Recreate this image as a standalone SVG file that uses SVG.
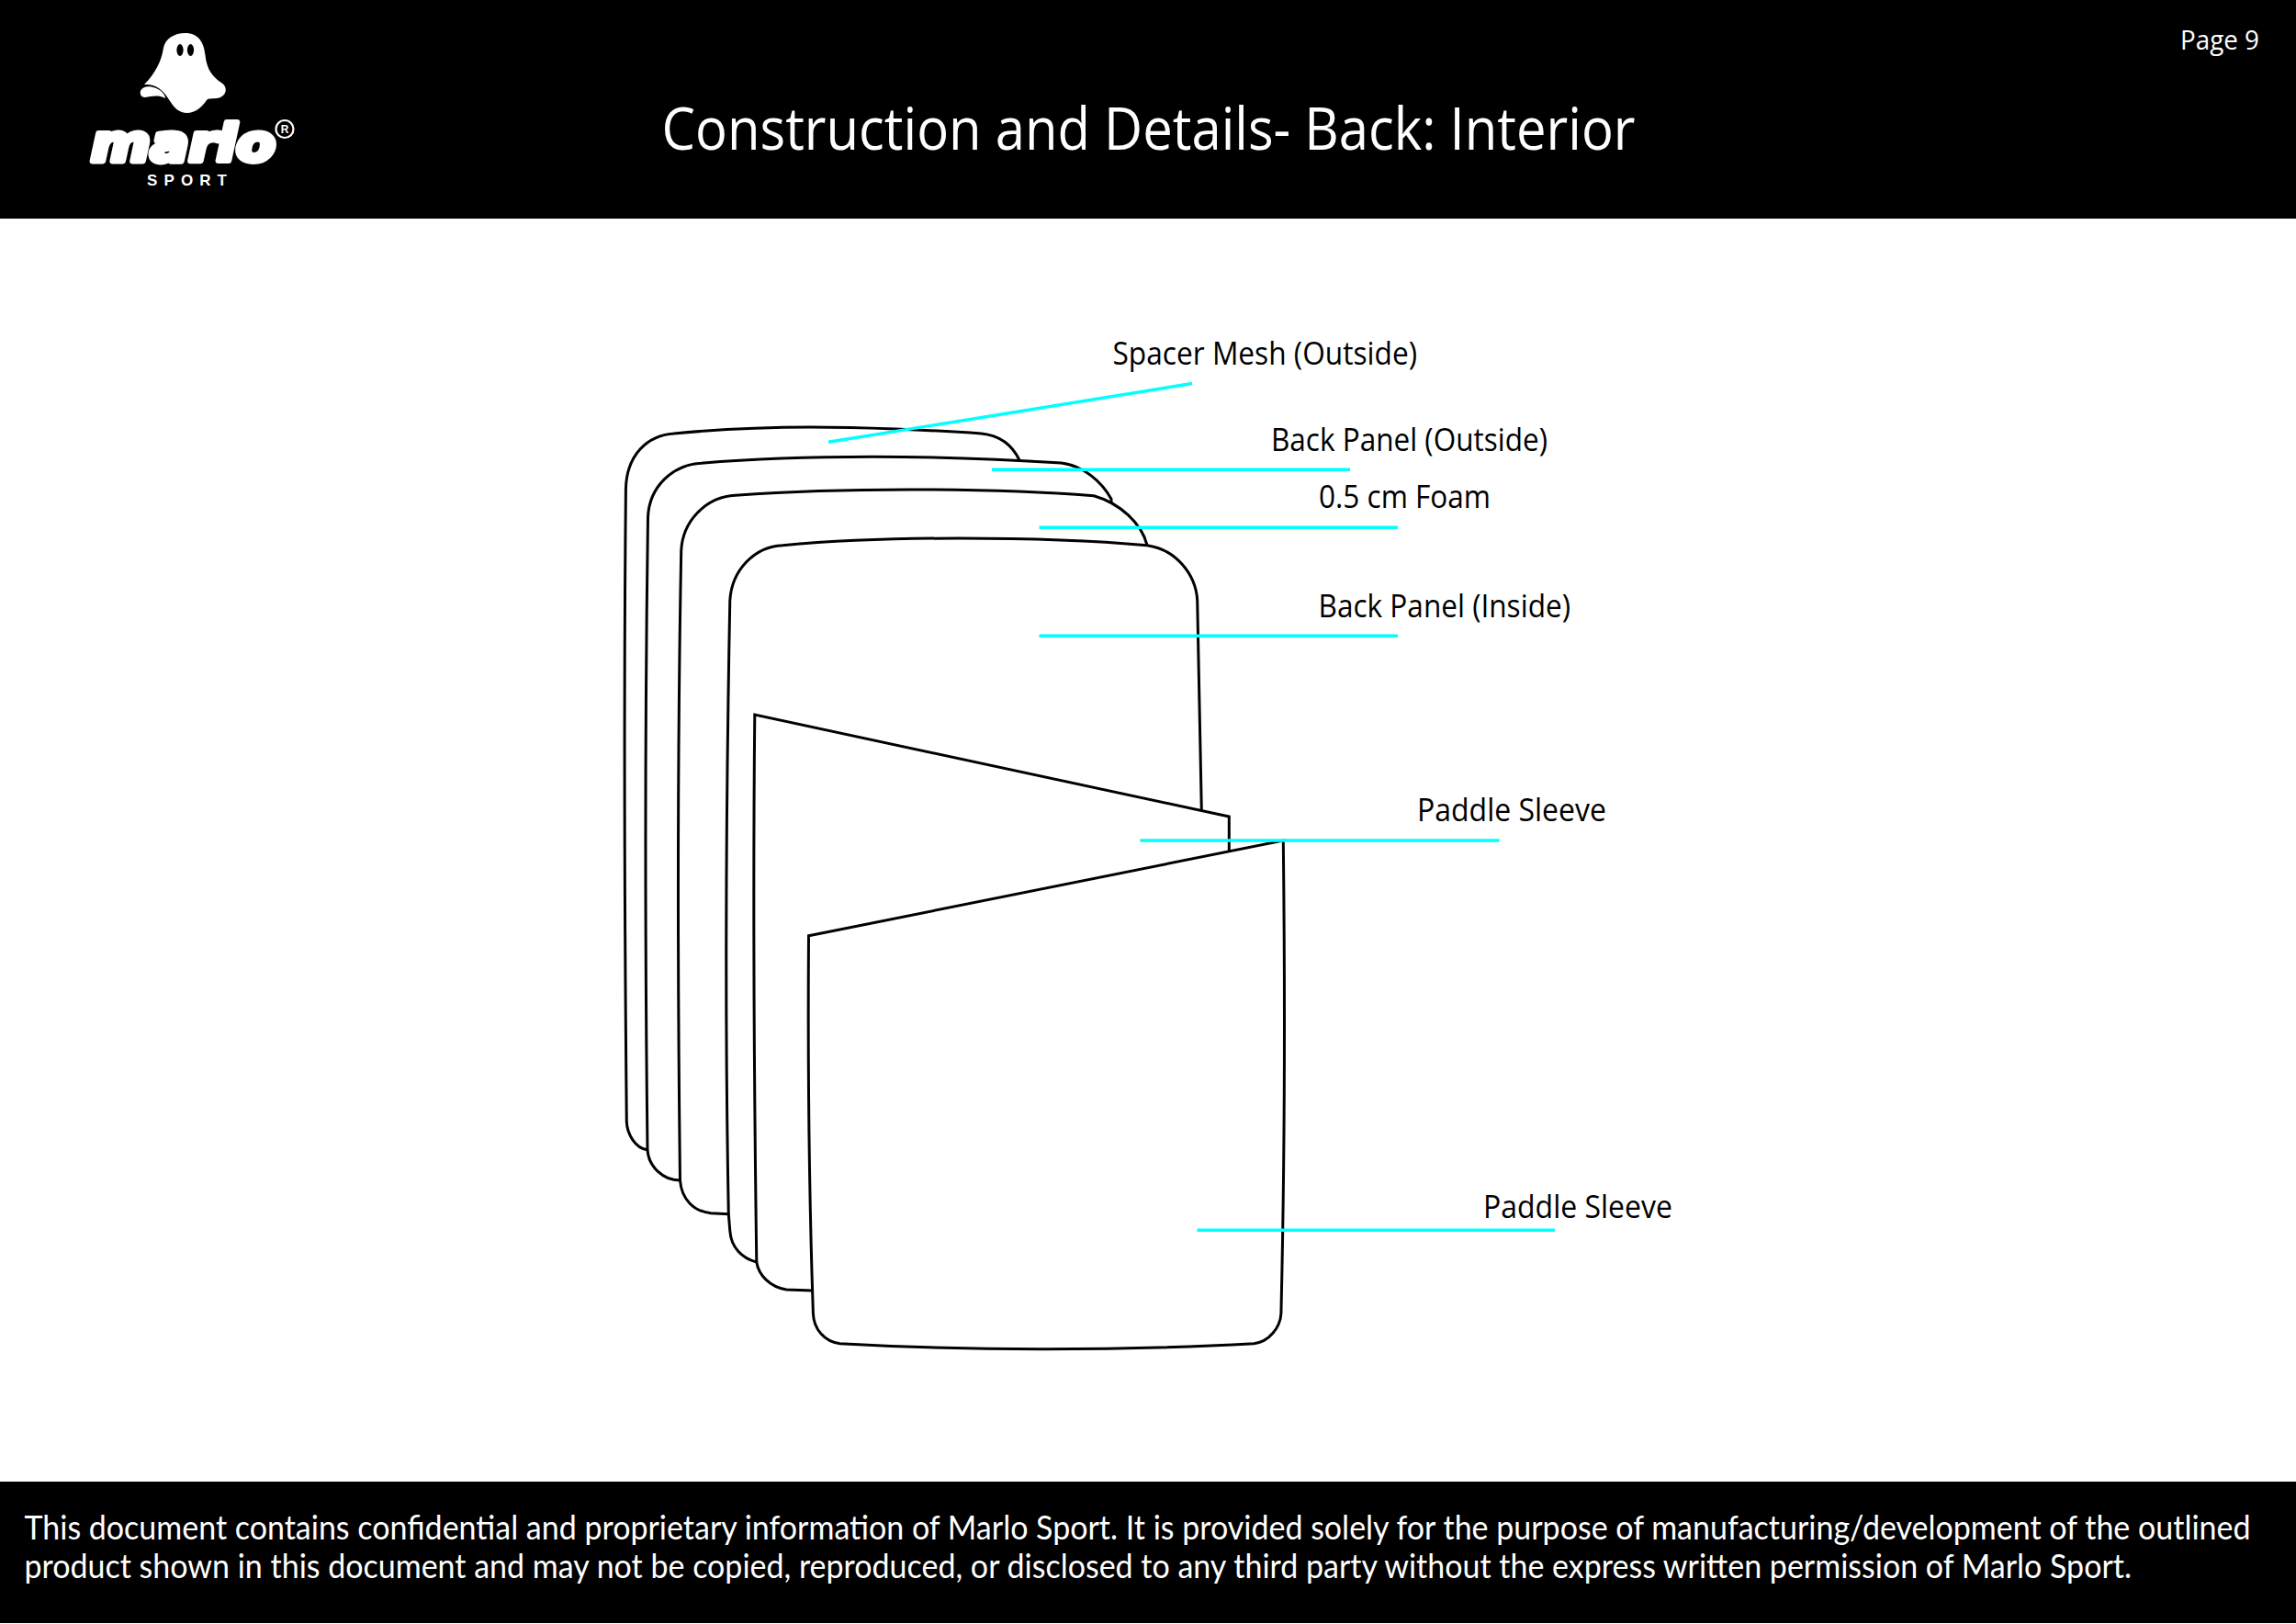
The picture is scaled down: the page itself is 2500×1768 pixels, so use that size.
<svg xmlns="http://www.w3.org/2000/svg" width="2500" height="1768" viewBox="0 0 2500 1768">
<style>
.band{fill:#000}
.p{fill:#fff;stroke:#000;stroke-width:3;stroke-linejoin:miter}
.c{stroke:#00ffff;stroke-width:3.4;fill:none}
text{font-family:"Open Sans","Noto Sans","Liberation Sans",sans-serif}
.l{font-size:35px;fill:#000}
.w{fill:#fff}
.f{font-size:36px;fill:#fff;font-family:Lato,"Open Sans",sans-serif}
</style>
<rect width="2500" height="1768" fill="#fff"/>
<g id="header">
<rect class="band" width="2500" height="238"/>
<text id="title" class="w" x="720.500" y="162.500" font-size="64" textLength="1060" lengthAdjust="spacingAndGlyphs">Construction and Details- Back: Interior</text>
<text id="page" class="w" x="2374" y="54" font-size="29" textLength="86" lengthAdjust="spacingAndGlyphs">Page 9</text>
</g>
<g id="logo">
<path class="w" d="M201.700 36C216 36 222 46 223.500 60C225 76 232 84 241 90C248 94 247 103 240 106C234 108.500 228 106 225 109C219 118 211 123 204 123C195 123 190 118 183 107C177 97 168 91 157 92C169 80 176 66 178 52C180 42 190 36 201.700 36Z"/>
<path class="w" d="M153 99C155 94 162 93 170 96C177 99 180 104 180 107C172 103 165 105 158 106C154 106 152 103 153 99Z"/>
<ellipse cx="196" cy="54.500" rx="3.600" ry="6.500" fill="#000"/>
<ellipse cx="207.500" cy="54.500" rx="3.600" ry="6.500" fill="#000"/>
<text class="w" x="99" y="175" font-size="56" font-weight="700" font-style="italic" stroke="#fff" stroke-width="6" stroke-linejoin="round" textLength="201" lengthAdjust="spacingAndGlyphs" style="font-family:'DejaVu Sans',sans-serif">marlo</text>
<text class="w" x="160" y="201.500" font-size="17" font-weight="700" textLength="87" style="font-family:'Liberation Sans',sans-serif">SPORT</text>
<circle cx="310" cy="140.500" r="9.500" fill="none" stroke="#fff" stroke-width="2.200"/>
<text class="w" x="310" y="145" font-size="12" font-weight="700" text-anchor="middle" style="font-family:'Liberation Sans',sans-serif">R</text>
</g>
<g id="spacer-mesh-panel"><path class="p" d="M704.600 1251.700C692 1250 683 1235 682.300 1221.700C680 1000 679 780 681.400 533C682 495 705 474 733.700 472C785 467 835 465 883 465C935 465 1015 468 1068.500 472C1088 474 1102 484 1110 501L1110 1250Z"/></g>
<g id="back-panel-outside"><path class="p" d="M740 1285C722 1285 706 1270 705 1251.700C702 1000 702 800 705.500 563C707 530 732 506 763.600 504.300C825 499 890 497.300 950 497.300C1020 497.300 1090 500 1155.500 504C1180 507 1200 525 1210 543.300L1210 1285Z"/></g>
<g id="foam-panel"><path class="p" d="M793.300 1321.700L774 1320.700C755 1319 742 1305 740.500 1285C737 1000 738 800 741.700 600C743 568 768 541 800.600 539.300C860 535 925 533 990 533C1060 533 1130 535 1191 539.700C1220 548 1243 570 1249 593.300L1249 1321.700Z"/></g>
<g id="back-panel-inside"><path class="p" d="M823.800 1374C808 1370 796 1358 794.800 1340L793.300 1321.700C789 1100 790 900 794.800 653.300C797 620 822 595 852 593.700C915 588 980 586 1044 586C1115 586 1185 588 1249 593.700C1280 598 1302 625 1303.700 653.300L1308.300 881.700L1308.300 1374Z"/></g>
<g id="paddle-sleeve-back"><path class="p" d="M884.400 1405L856.300 1404C838 1401 826 1388 823.800 1374C820 1100 820 950 821.800 778L1338.300 889L1338.300 926.700L1338.300 1405Z"/></g>
<g id="paddle-sleeve-front"><path class="p" d="M880.500 1018.800L1397.300 915C1399.500 1100 1398 1300 1394.900 1430C1394 1445 1382 1461 1365.300 1462.700C1290 1467 1210 1468.700 1135 1468.700C1060 1468.700 990 1467 914.500 1462.700C898 1461 886 1447 885.400 1430C881 1300 879.500 1150 880.500 1018.800Z"/></g>
<g id="connectors">
<line class="c" x1="902" y1="481.300" x2="1298" y2="417.500"/>
<line class="c" x1="1080" y1="511.200" x2="1470" y2="511.200"/>
<line class="c" x1="1131.500" y1="574.300" x2="1522" y2="574.300"/>
<line class="c" x1="1131.500" y1="692.300" x2="1522" y2="692.300"/>
<line class="c" x1="1241.500" y1="915" x2="1632.500" y2="915"/>
<line class="c" x1="1303.500" y1="1339.300" x2="1693" y2="1339.300"/>
</g>
<g id="labels">
<text class="l" x="1211.500" y="396.700" textLength="331.500" lengthAdjust="spacingAndGlyphs">Spacer Mesh (Outside)</text>
<text class="l" x="1384" y="490.700" textLength="301" lengthAdjust="spacingAndGlyphs">Back Panel (Outside)</text>
<text class="l" x="1436" y="553" textLength="187" lengthAdjust="spacingAndGlyphs">0.5 cm Foam</text>
<text class="l" x="1435.500" y="671.700" textLength="274.500" lengthAdjust="spacingAndGlyphs">Back Panel (Inside)</text>
<text class="l" x="1543" y="894" textLength="206" lengthAdjust="spacingAndGlyphs">Paddle Sleeve</text>
<text class="l" x="1615" y="1326" textLength="206" lengthAdjust="spacingAndGlyphs">Paddle Sleeve</text>
</g>
<g id="footer">
<rect class="band" y="1613" width="2500" height="154"/>
<text class="f" x="26.500" y="1675.500" textLength="2424" lengthAdjust="spacingAndGlyphs">This document contains confidential and proprietary information of Marlo Sport. It is provided solely for the purpose of manufacturing/development of the outlined</text>
<text class="f" x="26.500" y="1718" textLength="2294.500" lengthAdjust="spacingAndGlyphs">product shown in this document and may not be copied, reproduced, or disclosed to any third party without the express written permission of Marlo Sport.</text>
</g>
</svg>
